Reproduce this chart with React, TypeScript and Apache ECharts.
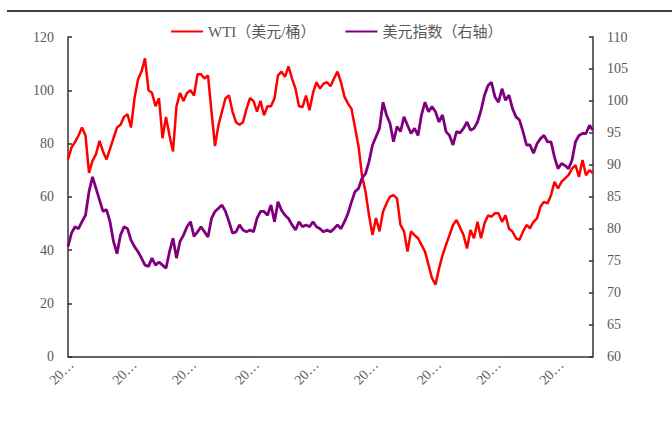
import React, { useEffect, useRef } from "react";
import * as echarts from "echarts";

// ~every 3 weeks from 2009-12-11
const startDate = "2009-12-11";
const stepDays = 21;

const wti: number[] = [
  74, 78.5, 80.5, 83, 86, 83, 69, 73.5, 76, 81, 77, 74, 78, 82, 86, 87, 90, 91, 86, 97,
  104, 107, 112, 100, 99, 94, 97, 82, 90, 83, 77, 94, 99, 96, 99, 100, 98, 106,
  106, 104.4, 105.6, 92, 79, 87, 92, 97, 98, 92, 88, 87, 88, 93, 97, 96, 92, 96, 90.6, 94,
  94, 97, 105.6, 107, 105, 109, 104.4, 100.6, 94, 93.7, 98, 92.5, 99, 103, 100.6, 102.5,
  103, 101.5,
  104.4, 107, 103, 97.5, 95, 93, 86, 79, 68, 62, 53, 45.6, 52, 47, 54.4, 57.5, 60, 60.6,
  59.4, 49.4, 47, 39.4, 47, 45.6, 44.4, 41.9, 39.4, 34.4, 29.4, 27, 33, 38, 41.9, 45.6,
  49.4, 51.3,
  48.5,
  45.6, 40.6, 47.5, 44.4, 50.6, 44.4, 50, 53, 52.5, 53.8, 53.8, 50.6, 53, 48, 46.9, 44.4,
  43.8, 46.9, 49.4, 48.1, 50.6, 51.9, 56.3, 58.1, 57.5, 60.6, 65.6, 63.1, 65.6, 66.9,
  68.1, 70.6, 71.9, 67.5, 73.8, 68.1, 70, 68.8,
];

const dxy: number[] = [
  77.2, 79.3, 80.3, 80, 81.1, 82.1, 85.8, 88.1, 86.3, 84.5, 82.7, 83, 81.1, 78, 76.1, 79,
  80.3, 80, 78.2, 77.2, 76.4, 75.4, 74.3, 74.1, 75.4, 74.3, 74.8, 74.3, 73.8, 76.4, 78.5,
  75.4, 78, 79, 80.3, 81.1, 78.8, 79.5,
  80.3, 79.5, 78.7, 81.6, 82.7, 83.2, 83.7, 82.7, 81.1, 79.3, 79.5, 80.6, 79.8, 79.5, 79.8,
  79.5, 81.6, 82.7, 82.7, 82.1, 83.7, 81.1, 84.2, 82.9, 82.1, 81.6, 80.6, 79.8, 81.1, 80.3,
  80.6, 80.3, 81.1, 80.3, 80, 79.5,
  79.8, 79.5,
  80, 80.6, 80, 81.1, 82.4, 84.2, 85.8, 86.3, 87.9, 88.6, 90.5, 93.1, 94.4, 95.7, 99.8,
  97.8, 96.5, 93.6, 96, 95.2, 97.5, 96.2, 94.9, 95.7, 94.6, 97.8, 99.8, 98.3, 99.1, 98.3,
  96.7, 97.8, 95.2, 94.6, 93.1, 95.2,
  95,
  95.7, 96.7, 95.4, 95.7, 96.7, 98.5, 100.9, 102.4, 102.9, 100.6, 99.8, 101.9, 100.1, 100.9,
  98.8, 97.5, 97, 95.2, 93.1, 93.1, 91.8, 93.3, 94.1, 94.6, 93.6, 93.6, 91.2, 89.4, 90.2,
  89.9, 89.4, 90.7, 93.6, 94.6, 94.9, 94.9, 96.2, 95.4,
];

const seriesNames = ["WTI（美元/桶）", "美元指数（右轴）"];

function buildDates(n: number): string[] {
  const out: string[] = [];
  const t0 = new Date(startDate + "T00:00:00Z").getTime();
  for (let i = 0; i < n; i++) {
    const d = new Date(t0 + i * stepDays * 86400000);
    const y = d.getUTCFullYear();
    const m = String(d.getUTCMonth() + 1).padStart(2, "0");
    const dd = String(d.getUTCDate()).padStart(2, "0");
    out.push(`${y}-${m}-${dd}`);
  }
  return out;
}

const dates = buildDates(wti.length);

export default function App() {
  const ref = useRef<HTMLDivElement>(null);
  useEffect(() => {
    if (!ref.current) return;
    const chart = echarts.init(ref.current, null, { renderer: "svg" });
    const font = "'Liberation Serif', 'Times New Roman', 'Noto Sans CJK SC', serif";
    chart.setOption({
      animation: false,
      textStyle: { fontFamily: font },
      legend: {
        top: 24,
        left: 171,
        padding: 0,
        itemGap: 30,
        itemWidth: 32,
        itemHeight: 2,
        icon: "rect",
        textStyle: { fontSize: 15, color: "#595959", fontFamily: font },
        data: seriesNames,
      },
      graphic: [
        {
          type: "line",
          shape: { x1: 7, y1: 11, x2: 672, y2: 11 },
          style: { stroke: "#000", lineWidth: 1.5 },
        },
      ],
      grid: { left: 68, right: 79, top: 37, bottom: 65.5 },
      xAxis: {
        type: "category",
        data: dates,
        boundaryGap: false,
        axisLine: { lineStyle: { color: "#333", width: 1.5 } },
        axisTick: { show: false },
        axisLabel: {
          rotate: 45,
          margin: 6,
          fontSize: 14,
          color: "#595959",
          fontFamily: font,
          width: 30,
          overflow: "truncate",
          ellipsis: "…",
          interval: (idx: number) => {
            if (idx === 0) return false;
            return dates[idx].slice(0, 4) !== dates[idx - 1].slice(0, 4);
          },
        },
        splitLine: { show: false },
      },
      yAxis: [
        {
          type: "value",
          min: 0,
          max: 120,
          interval: 20,
          axisLine: { show: true, lineStyle: { color: "#333", width: 1.5 } },
          axisTick: { show: true, inside: true, length: 4, lineStyle: { color: "#333", width: 1.5 } },
          axisLabel: { fontSize: 14, color: "#595959", margin: 14, fontFamily: font },
          splitLine: { show: false },
        },
        {
          type: "value",
          min: 60,
          max: 110,
          interval: 5,
          position: "right",
          axisLine: { show: true, lineStyle: { color: "#333", width: 1.5 } },
          axisTick: { show: true, inside: true, length: 4, lineStyle: { color: "#333", width: 1.5 } },
          axisLabel: { fontSize: 14, color: "#595959", margin: 14, fontFamily: font },
          splitLine: { show: false },
        },
      ],
      series: [
        {
          name: seriesNames[0],
          type: "line",
          data: wti,
          yAxisIndex: 0,
          showSymbol: false,
          symbol: "none",
          lineStyle: { color: "#FF0000", width: 2.5 },
          itemStyle: { color: "#FF0000" },
        },
        {
          name: seriesNames[1],
          type: "line",
          data: dxy,
          yAxisIndex: 1,
          showSymbol: false,
          symbol: "none",
          lineStyle: { color: "#7F007F", width: 2.8 },
          itemStyle: { color: "#7F007F" },
        },
      ],
    });
    return () => chart.dispose();
  }, []);
  return (
    <div
      ref={ref}
      style={{ position: "absolute", left: 0, top: 0, width: 672, height: 422 }}
    />
  );
}
